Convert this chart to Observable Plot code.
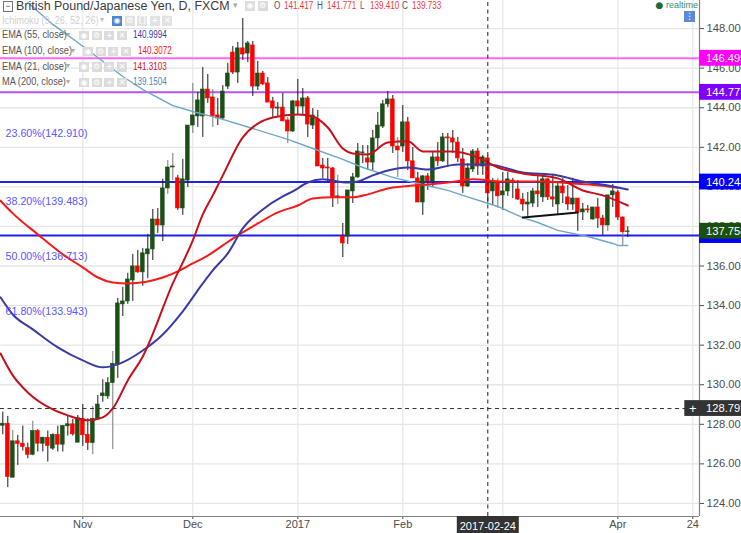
<!DOCTYPE html>
<html><head><meta charset="utf-8">
<script src="https://cdn.jsdelivr.net/npm/d3@7"></script>
<script src="https://cdn.jsdelivr.net/npm/@observablehq/plot@0.6"></script>
<style>
html,body{margin:0;padding:0;background:#fff;overflow:hidden}
#wrap{position:relative;width:741px;height:533px;overflow:hidden;font-family:"Liberation Sans",Arial,sans-serif}
#wrap svg{display:block;background:#fff}
.o{position:absolute;white-space:nowrap;line-height:1}
.btn{position:absolute;width:10px;height:9.5px;background:#dcdcdc;color:#fff;font:8px/9.5px "DejaVu Sans";text-align:center}
</style></head><body><div id="wrap"></div>
<script>
const opens=[127.93,128.03,125.30,127.14,127.02,126.80,126.46,127.66,127.02,127.32,126.77,127.47,126.97,127.90,128.00,127.07,128.28,127.47,127.05,128.25,129.42,129.41,130.08,131.03,134.06,134.21,135.27,135.98,135.68,136.59,136.84,138.35,138.05,139.92,140.98,140.43,138.91,140.32,143.10,143.56,143.56,144.92,144.52,143.61,143.46,145.07,146.79,145.78,147.00,146.74,147.15,145.07,145.73,145.23,144.32,143.96,144.01,143.36,142.80,144.32,144.06,144.47,143.10,143.41,141.08,140.98,140.93,139.47,137.49,137.49,139.77,140.48,141.71,141.44,141.23,142.45,143.05,144.17,144.42,142.04,142.04,143.26,141.29,140.43,139.21,140.53,140.27,141.49,141.29,142.50,142.45,142.24,141.39,140.02,140.88,141.79,141.03,141.44,139.77,140.22,139.57,139.77,140.32,139.87,139.36,139.11,139.16,139.77,139.47,140.38,139.47,139.11,140.02,139.47,139.11,139.41,138.71,138.86,138.35,138.96,138.40,138.05,139.57,139.72,138.45,137.72];
const closes=[128.03,125.33,127.14,127.00,126.85,126.46,127.66,127.02,127.32,126.90,127.47,126.97,127.91,128.00,127.49,128.31,127.44,127.05,128.28,129.00,129.56,130.08,131.06,134.11,134.21,135.32,135.98,135.68,136.64,136.84,138.35,138.05,139.92,140.98,141.03,138.91,140.38,143.10,143.61,144.37,144.92,144.47,143.56,143.46,144.82,145.73,145.78,147.00,146.69,147.25,145.07,145.73,145.18,144.26,143.96,144.01,143.31,142.80,144.32,144.06,144.47,143.15,143.61,141.03,140.93,140.93,139.47,139.52,137.14,139.82,140.48,141.79,141.74,141.23,142.45,143.10,144.17,144.42,142.04,141.84,143.26,141.29,140.43,139.21,140.53,140.27,141.49,141.29,142.50,142.45,142.24,141.44,140.02,140.93,141.79,141.03,141.49,139.67,140.22,139.52,139.77,140.38,140.22,139.36,139.11,139.21,139.77,139.62,140.38,139.47,139.36,140.02,139.67,139.11,139.41,138.71,138.86,138.81,138.96,138.40,138.05,139.57,139.77,138.45,137.70,137.75];
const highs=[128.62,128.40,127.69,127.44,127.91,127.05,128.15,127.73,127.35,127.66,127.52,127.91,127.94,128.40,128.25,128.45,129.00,128.28,128.90,129.46,130.25,130.35,131.68,134.36,134.92,135.63,136.59,136.79,136.89,137.60,138.86,138.91,140.38,141.34,141.69,140.58,141.39,143.10,145.23,144.77,146.03,145.68,144.92,144.47,145.12,146.24,147.10,147.30,148.51,147.35,147.35,146.34,145.83,145.53,144.52,144.26,144.72,143.51,144.37,145.43,144.97,144.57,143.96,143.86,141.44,141.44,140.98,140.58,138.15,139.82,140.68,142.19,142.09,142.09,142.85,143.76,144.37,144.82,144.62,142.50,144.11,143.51,141.99,140.73,140.58,140.68,141.79,142.24,142.70,142.70,142.85,142.50,141.94,141.18,141.89,141.94,141.59,141.59,140.43,140.43,140.73,140.73,140.43,140.32,139.67,139.72,139.92,140.53,140.53,140.43,140.63,140.17,140.43,140.07,140.43,139.41,139.16,139.06,138.96,139.41,138.56,139.57,140.12,139.82,138.51,137.99];
const lows=[127.47,124.80,125.30,125.92,126.65,126.26,126.40,126.60,126.60,126.09,126.68,126.60,126.60,127.40,127.40,127.07,126.88,126.68,126.46,128.20,129.12,129.26,126.72,130.32,133.45,134.06,134.21,135.63,134.97,135.37,136.28,137.65,137.24,139.62,140.32,138.81,138.56,139.97,142.70,143.00,142.50,144.22,143.00,143.10,143.36,144.92,145.68,145.23,146.39,146.29,144.57,144.87,145.12,144.26,143.51,143.51,143.31,142.19,142.75,143.61,143.61,142.50,142.90,141.03,140.43,140.22,138.96,139.11,136.43,137.09,139.16,140.43,141.18,140.83,140.78,141.94,142.95,144.01,141.69,140.48,141.74,140.83,140.43,139.21,138.56,139.82,139.97,141.03,141.23,140.98,141.69,141.23,139.67,139.97,140.73,140.58,140.58,139.16,139.06,138.91,138.81,139.52,139.41,139.31,138.76,138.51,138.96,138.96,139.21,139.31,138.96,138.61,139.16,138.81,138.81,137.75,138.30,138.66,138.30,137.90,137.55,137.75,138.96,138.30,137.04,137.44];
const greyWicks=[2,6,18,22,33,34,38,42,57,67,79,99,118,121,124];

const ma200Bars=[5,10,15,19,24,28,34,38,44,50,57,62,68,72,78,83,89,92,99,104,107,111,117,122,123,125];
const ma200=[149.32,148.21,147.30,146.54,145.58,144.92,144.11,143.81,143.41,142.95,142.40,141.94,141.39,140.98,140.48,140.17,139.82,139.57,139.01,138.45,138.20,137.80,137.49,137.14,137.04,137.04];
const ema100Bars=[-0.46,2,7,12,16,19,22,25,32,35,38,41,44,47,51,55,59,62,66,70,73,77,80,85,89,94,100,108,114,121,123];
const ema100=[139.30,138.66,137.60,136.59,135.93,135.42,135.17,135.12,135.42,135.73,136.13,136.53,137.04,137.55,138.15,138.71,139.06,139.41,139.47,139.47,139.62,139.92,140.02,140.12,140.22,140.38,140.27,140.27,140.17,140.02,139.95];
const ema55Bars=[-0.46,2,6,11,16,20,23,28,32,36,40,42,45,48,52,56,58,61,64,69,71,74,77,81,85,91,97,104,111,116,121,125];
const ema55=[134.42,133.55,132.80,131.89,131.23,130.88,131.03,131.73,132.54,133.71,135.12,135.78,136.64,137.90,138.86,139.52,139.77,140.22,140.38,140.22,140.27,140.58,140.83,140.98,140.88,141.13,141.13,140.73,140.58,140.27,140.07,139.87];
const ema21Bars=[-0.46,2,5,10,13,17,20,22,25,28,34,38,40,42,44,48,51,54,59,62,65,68,70,73,77,81,84,90,95,99,104,111,116,120,125];
const ema21=[131.58,130.47,129.61,128.75,128.45,128.20,128.35,128.80,130.22,131.43,135.12,137.29,138.61,139.57,140.58,142.50,143.20,143.51,143.66,143.56,143.00,141.94,141.69,141.64,142.24,142.30,141.79,141.79,141.49,140.98,140.68,140.43,139.82,139.57,139.06];

const trendBars=[104,115];
const trendPrices=[138.45,138.71];
const fibPrices=[142.910,139.483,136.713,133.943];
const fibLabels=["23.60%(142.910)","38.20%(139.483)","50.00%(136.713)","61.80%(133.943)"];
const priceTicks=[124,126,128,130,132,134,136,138,140,142,144,146,148];
const timeBars=[16,38,59,80,100,123,138];
const timeLabels=["Nov","Dec","2017","Feb","","Apr","24"];
const levelPrices=[146.499,144.777,140.244,137.54];
const levelColors=["#ff66ff","#b455f5","#1f1fee","#1f1fee"];
const cursorBar=97, cursorPrice=128.797, cursorDate="2017-02-24";

const greenC="#1b4f16", redC="#ff0000";
const bars=opens.map((o,i)=>({i,o,c:closes[i],h:highs[i],l:lows[i],up:closes[i]>=o}));
const pts=(b,v)=>b.map((i,k)=>({i,p:v[k]}));
const X0=-0.46,X1=139.34,XR=148.4;
const rightTx=140.66;
const blueBackTag=[137.54];
const tags=[
 {p:146.499,t:"146.499",f:"#ff00ff"},
 {p:144.777,t:"144.777",f:"#7f00ff"},
 {p:140.244,t:"140.244",f:"#0000ff"},
 {p:137.758,t:"137.758",f:"#1b4f12"}
];
const font='"Liberation Sans",Arial,sans-serif';

const chart=Plot.plot({
  width:741,height:533,marginLeft:0,marginRight:42,marginTop:0,marginBottom:17,
  style:{background:"#fff",fontFamily:font},
  x:{type:"linear",domain:[X0,X1],range:[0,699]},
  y:{type:"linear",domain:[123.34,149.42],range:[516,0]},
  marks:[
    Plot.ruleY(priceTicks,{x1:X0,x2:X1,stroke:"#e6e6e6",strokeWidth:1.3}),
    Plot.ruleX(timeBars,{y1:123.34,y2:149.42,stroke:"#e8e8e8",strokeWidth:1.3}),
    Plot.axisY(priceTicks,{anchor:"right",tickSize:4,tickPadding:3,tickFormat:d3.format(".3f"),label:null,fontSize:11.2,color:"#4d4d4d",tickStroke:"#777"}),
    Plot.axisX(timeBars,{anchor:"bottom",tickSize:3,tickPadding:1,tickFormat:(d,k)=>timeLabels[timeBars.indexOf(d)],label:null,fontSize:11,color:"#4d4d4d",tickStroke:"#777"}),
    Plot.ruleX([X1],{y1:123.34,y2:149.42,stroke:"#808080",strokeWidth:1.2}),
    Plot.ruleY([123.34],{x1:X0,x2:X1,stroke:"#808080",strokeWidth:1.2}),
    Plot.ruleY(levelPrices,{x1:X0,x2:X1,stroke:(d,k)=>levelColors[k],strokeWidth:2}),
    Plot.ruleX(bars,{x:"i",y1:"l",y2:"h",stroke:d=>greyWicks.includes(d.i)?"#777":"#1a1a1a",strokeWidth:1}),
    Plot.rect(bars,{x1:d=>d.i-0.38,x2:d=>d.i+0.38,y1:"o",y2:"c",fill:d=>d.up?greenC:redC,stroke:d=>d.up?greenC:redC,strokeWidth:0.6,inset:0}),
    Plot.line(pts(ma200Bars,ma200),{x:"i",y:"p",stroke:"#6ea6c6",strokeWidth:1.4,clip:true}),
    Plot.line(pts(ema100Bars,ema100),{x:"i",y:"p",stroke:"#f71a1a",strokeWidth:2,curve:"monotone-x"}),
    Plot.line(pts(ema55Bars,ema55),{x:"i",y:"p",stroke:"#3a3aa6",strokeWidth:2,curve:"monotone-x"}),
    Plot.line(pts(ema21Bars,ema21),{x:"i",y:"p",stroke:"#c4121c",strokeWidth:2,curve:"monotone-x"}),
    Plot.line(pts(trendBars,trendPrices),{x:"i",y:"p",stroke:"#111",strokeWidth:2}),
    Plot.text(fibLabels,{x:0.55,y:(d,k)=>fibPrices[k],text:d=>d,textAnchor:"start",dy:4.6,fill:"#5858ff",fontSize:10.7}),
    Plot.ruleY([cursorPrice],{x1:X0,x2:X1,stroke:"#333",strokeDasharray:"4 3.5",strokeWidth:1}),
    Plot.ruleX([cursorBar],{y1:123.34,y2:149.42,stroke:"#222",strokeDasharray:"4 3.5",strokeWidth:1}),
    Plot.rect(blueBackTag,{x1:X1,x2:XR,y1:d=>d-0.4,y2:d=>d+0.4,fill:"#0000ff"}),
    Plot.rect(tags,{x1:X1,x2:XR,y1:d=>d.p-0.4,y2:d=>d.p+0.4,fill:"f"}),
    Plot.text(tags,{x:rightTx,y:"p",text:"t",textAnchor:"start",fill:"#fff",fontSize:11.2}),
    Plot.rect([cursorPrice],{x1:136.4,x2:XR,y1:d=>d-0.4,y2:d=>d+0.4,fill:"#333"}),
    Plot.text([cursorPrice],{x:rightTx,y:d=>d,text:d=>d.toFixed(3),textAnchor:"start",fill:"#fff",fontSize:11.2}),
    Plot.text(["+"],{x:138,y:cursorPrice,text:d=>d,fill:"#fff",fontSize:13}),
    Plot.rect([cursorBar],{x1:90.9,x2:103.3,y1:122.4,y2:123.34,fill:"#333"}),
    Plot.text([cursorDate],{x:cursorBar,y:122.85,text:d=>d,fill:"#fff",fontSize:11})
  ]
});
const wrap=document.getElementById("wrap");
wrap.appendChild(chart);

function put(t,x,y,css){const s=document.createElement("span");s.className="o";s.textContent=t;s.style.left=x+"px";s.style.top=y+"px";s.style.cssText+=css||"";wrap.appendChild(s);return s}
function btns(x0,step,y){["\u25C9","\u2699","+","\u2715"].forEach((g,i)=>{const b=document.createElement("span");b.className="btn";b.textContent=g;b.style.left=(x0+i*step)+"px";b.style.top=y+"px";wrap.appendChild(b)})}
const narrow="transform:scaleX(.81);transform-origin:0 0;";
const nameFit="transform:scaleX(.92);transform-origin:0 0;";

// header
put("\u2212",3,1,"width:8px;height:9px;border:1px solid #777;color:#555;font-size:9px;line-height:8px;text-align:center");
put("British Pound/Japanese Yen, D, FXCM",16,-0.5,"font-size:12.45px;color:#3c3c3c");
put("\u25BE",233,1,"font-size:9px;color:#aaa;font-family:'DejaVu Sans'");
[[245,"\u25C9"],[257.5,"\u2699"]].forEach(([x,g])=>{const b=document.createElement("span");b.className="btn";b.textContent=g;b.style.left=x+"px";b.style.top="1px";wrap.appendChild(b)});
const headerLetters=["O","H","L","C"],headerVals=["141.417","141.771","139.410","139.733"];
[274,317,360,402].forEach((x,k)=>{put(headerLetters[k],x,0.5,"font-size:10px;color:#555;"+narrow);put(headerVals[k],x+9.5,0.5,"font-size:10px;color:#f03a3a;"+narrow)});

// indicator legend
put("Ichimoku (9, 26, 52, 26)",2,15.5,"font-size:10px;color:#cfcfcf;"+nameFit);
put("\u25BE",100,16,"font-size:8px;color:#bbb;font-family:'DejaVu Sans'");
["\u25C9","\u2699","{}","+","\u2715"].forEach((g,i)=>{const b=document.createElement("span");b.className="btn";b.textContent=g;b.style.left=(112+i*12.6)+"px";b.style.top="16px";b.style.background=i==0?"#4a86d8":"#e2e2e2";wrap.appendChild(b)});
const legendNames=["EMA (55, close)","EMA (100, close)","EMA (21, close)","MA (200, close)"];
const legendVals=["140.9994","140.3072","141.3103","139.1504"];
const legendCols=["#3c3ca6","#ee2020","#d0202c","#4a8ab4"];
const rowY=[30,46,61.5,77];const btnX=[79,83,79,79];const valX=[133,138,133,133];const caretX=[66,71,66,66];
legendNames.forEach((n,k)=>{
  put(n,2,rowY[k],"font-size:10px;color:#555;"+nameFit);
  put("\u25BE",caretX[k],rowY[k]+0.5,"font-size:8px;color:#aaa;font-family:'DejaVu Sans'");
  btns(btnX[k],12.7,rowY[k]+0.8);
  put(legendVals[k],valX[k],rowY[k],"font-size:10px;color:"+legendCols[k]+";"+narrow);
});

// realtime
put("\u25CF",655.5,0.5,"font-size:9px;color:#1a6a3a;font-family:'DejaVu Sans'");
put("realtime",666,1,"font-size:9px;color:#3f8a6a");
put("\u22EE",684,11,"width:11px;height:11px;background:#5b8bd8;color:#fff;font:9px/11px 'DejaVu Sans';text-align:center");
</script></body></html>
